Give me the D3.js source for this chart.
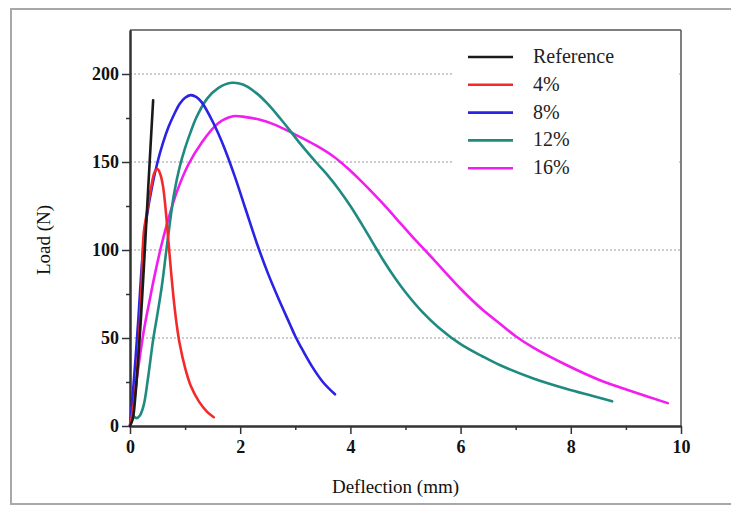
<!DOCTYPE html>
<html><head><meta charset="utf-8">
<script src="https://cdn.jsdelivr.net/npm/d3@7"></script>
<style>body{margin:0;background:#fff;}svg{display:block;}</style>
</head><body>
<svg id="chart" width="731" height="510"></svg>
<script>
const seriesNames = ["Reference", "4%", "8%", "12%", "16%"];
const seriesColors = ["#1a1a1a", "#f42a2a", "#2a22e6", "#1f8a80", "#f21ef0"];
const refX = [0, 0.05, 0.1, 0.2, 0.3, 0.38, 0.42];
const refY = [0, 4, 18, 62, 118, 163, 185];
const p4X = [0, 0.1, 0.2, 0.25, 0.3, 0.38, 0.45, 0.5, 0.55, 0.6, 0.65, 0.7, 0.75, 0.8, 0.85, 0.9, 1.0, 1.1, 1.25, 1.4, 1.52];
const p4Y = [0, 20, 72, 110, 120, 135, 144.5, 146, 143, 136, 122, 104, 86, 70, 57, 47, 33, 23, 14, 8, 5];
const p8X = [0, 0.05, 0.1, 0.15, 0.2, 0.25, 0.3, 0.4, 0.5, 0.6, 0.7, 0.8, 0.9, 1.0, 1.1, 1.2, 1.3, 1.5, 1.7, 1.9, 2.1, 2.3, 2.5, 2.7, 2.9, 3.0, 3.1, 3.3, 3.5, 3.72];
const p8Y = [0, 18, 38, 60, 85, 105, 118, 136, 150, 161, 170, 177, 183, 186.5, 188, 187, 184, 173, 159, 142, 123, 104, 87, 72, 58, 51, 45, 34, 25, 18];
const p12X = [0.02, 0.06, 0.12, 0.18, 0.25, 0.33, 0.42, 0.5, 0.58, 0.66, 0.73, 0.8, 0.9, 1.0, 1.1, 1.2, 1.4, 1.6, 1.85, 2.05, 2.3, 2.5, 2.72, 2.9, 3.1, 3.4, 3.6, 3.8, 4.0, 4.2, 4.4, 4.6, 4.8, 5.0, 5.3, 5.6, 6.0, 6.4, 6.72, 7.32, 7.93, 8.4, 8.75];
const p12Y = [10, 6, 4.5, 6, 12, 28, 49, 64, 80, 100, 117, 132, 147, 158, 167, 175, 186, 192, 195, 194, 189, 183, 175, 168, 160, 149, 142, 134, 125, 115, 104.5, 94, 84.5, 76, 65, 56, 46.5, 39.5, 34.5, 27, 21, 17, 14];
const p16X = [0, 0.05, 0.15, 0.25, 0.36, 0.45, 0.58, 0.7, 0.85, 1.05, 1.3, 1.6, 1.87, 2.1, 2.36, 2.6, 2.85, 3.1, 3.4, 3.7, 3.93, 4.2, 4.54, 4.8, 5.14, 5.5, 6.0, 6.4, 6.72, 7.0, 7.32, 7.93, 8.53, 9.13, 9.76];
const p16Y = [0, 10, 33, 54, 72, 86, 104, 118, 133, 148, 161, 172, 176, 175.5, 174, 171.5, 168, 164, 159, 153, 147, 139, 128, 119, 107, 95, 78, 66, 58, 51, 44.5, 34.5, 26, 19.5, 13];
const xTicks = [0, 2, 4, 6, 8, 10];
const yTicks = [0, 50, 100, 150, 200];
const xLabel = "Deflection (mm)";
const yLabel = "Load (N)";

const allX = [refX, p4X, p8X, p12X, p16X];
const allY = [refY, p4Y, p8Y, p12Y, p16Y];

const svg = d3.select("#chart");
const L = 130, R = 681, T = 30, B = 426;
const x = d3.scaleLinear().domain([0, 10]).range([L, R]);
const y = d3.scaleLinear().domain([0, 225]).range([B, T]);
const serif = "Liberation Serif, Times New Roman, serif";

// outer frame
svg.append("rect").attr("x", 11).attr("y", 9).attr("width", 740).attr("height", 495)
  .attr("fill", "none").attr("stroke", "#a8a8a8").attr("stroke-width", 2);

// grid
svg.append("g").selectAll("line").data(yTicks.filter(d => d > 0)).join("line")
  .attr("x1", L).attr("x2", R).attr("y1", d => y(d)).attr("y2", d => y(d))
  .attr("stroke", "#9a9a9a").attr("stroke-width", 1).attr("stroke-dasharray", "2,2");

// legend background
svg.append("rect").attr("x", 453).attr("y", 38).attr("width", 226).attr("height", 148).attr("fill", "#fff");

// top/right frame
svg.append("line").attr("x1", L).attr("x2", R).attr("y1", T).attr("y2", T).attr("stroke", "#555").attr("stroke-width", 1.5);
svg.append("line").attr("x1", R).attr("x2", R).attr("y1", T).attr("y2", B).attr("stroke", "#555").attr("stroke-width", 1.5);

// axes
const xAxis = d3.axisBottom(x).tickValues(xTicks).tickSize(8).tickSizeOuter(0).tickFormat(d3.format("d"));
const xMinor = d3.axisBottom(x).tickValues([1, 3, 5, 7, 9]).tickSize(4).tickSizeOuter(0).tickFormat("");
const yAxis = d3.axisLeft(y).tickValues(yTicks).tickSize(8).tickSizeOuter(0).tickFormat(d3.format("d"));
const yMinor = d3.axisLeft(y).tickValues([25, 75, 125, 175]).tickSize(4).tickSizeOuter(0).tickFormat("");

function styleAxis(g) {
  g.select(".domain").attr("stroke", "#333").attr("stroke-width", 2);
  g.selectAll(".tick line").attr("stroke", "#333").attr("stroke-width", 1.5);
  g.selectAll("text").attr("font-family", serif)
    .attr("font-weight", "bold").attr("font-size", 18).attr("fill", "#111");
}
svg.append("g").attr("transform", `translate(0,${B})`).call(xMinor).call(styleAxis);
svg.append("g").attr("transform", `translate(0,${B})`).call(xAxis).call(styleAxis)
  .selectAll(".tick text").attr("dy", "0.9em");
svg.append("g").attr("transform", `translate(${L},0)`).call(yMinor).call(styleAxis);
svg.append("g").attr("transform", `translate(${L},0)`).call(yAxis).call(styleAxis)
  .selectAll(".tick text").attr("x", -11);

// axis titles
svg.append("text").attr("x", (L + R) / 2 - 10).attr("y", 493).attr("text-anchor", "middle")
  .attr("font-family", serif).attr("font-size", 19).attr("fill", "#111").text(xLabel);
svg.append("text").attr("transform", `translate(50,${(T + B) / 2 + 12}) rotate(-90)`).attr("text-anchor", "middle")
  .attr("font-family", serif).attr("font-size", 19).attr("fill", "#111").text(yLabel);

// lines
const line = d3.line().x(d => x(d[0])).y(d => y(d[1])).curve(d3.curveCatmullRom.alpha(0.5));
const order = [4, 3, 2, 1, 0];
order.forEach(i => {
  const pts = allX[i].map((v, j) => [v, allY[i][j]]);
  svg.append("path").datum(pts).attr("d", line).attr("fill", "none")
    .attr("stroke", seriesColors[i]).attr("stroke-width", 2.6).attr("stroke-linejoin", "round").attr("stroke-linecap", "round");
});

// legend
const lg = svg.append("g");
seriesNames.forEach((n, i) => {
  const yy = 57 + i * 27.8;
  lg.append("line").attr("x1", 468).attr("x2", 513).attr("y1", yy).attr("y2", yy)
    .attr("stroke", seriesColors[i]).attr("stroke-width", 2.6);
  lg.append("text").attr("x", 533).attr("y", yy + 6).attr("font-family", serif)
    .attr("font-size", 20).attr("fill", "#222").text(n);
});
</script>
</body></html>
